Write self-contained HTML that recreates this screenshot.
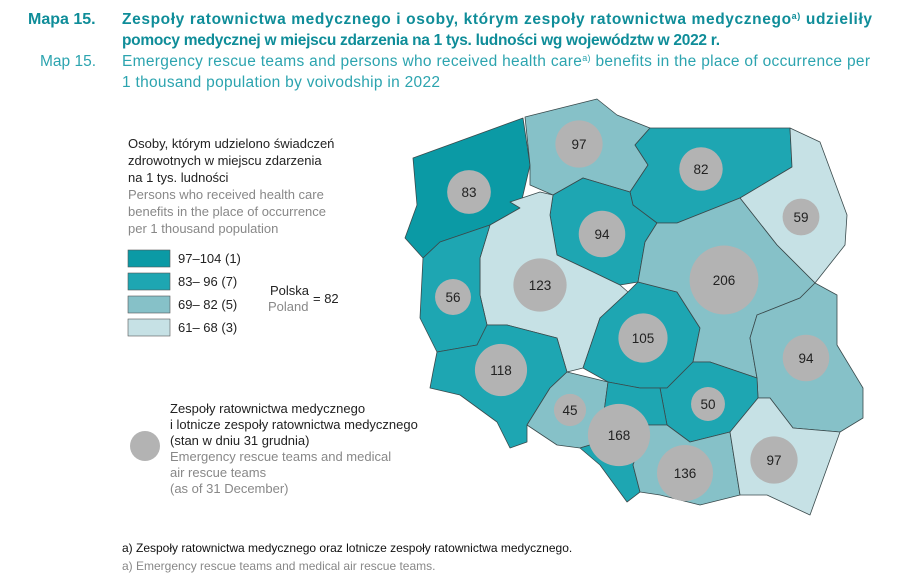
<!DOCTYPE html>
<html><head><meta charset="utf-8"><style>
body{margin:0;background:#fff;width:900px;height:582px;overflow:hidden;font-family:"Liberation Sans",sans-serif}
svg{position:absolute;left:0;top:0}
</style></head><body>
<svg id="c" width="900" height="582" font-family="Liberation Sans, sans-serif">
<g>
<text x="28" y="24" font-size="16" font-weight="bold" fill="#0f8d99">Mapa 15.</text>
<text x="122" y="24" font-size="15.5" font-weight="bold" fill="#0f8d99" textLength="750">Zespoły ratownictwa medycznego i osoby, którym zespoły ratownictwa medycznego<tspan font-size="9" dy="-5">a)</tspan><tspan dy="5"> udzieliły</tspan></text>
<text x="122" y="45" font-size="15.5" font-weight="bold" fill="#0f8d99" textLength="598">pomocy medycznej w miejscu zdarzenia na 1 tys. ludności wg województw w 2022 r.</text>
<text x="40" y="66" font-size="15.5" fill="#2ca4af">Map 15.</text>
<text x="122" y="66" font-size="15.5" fill="#2ca4af" textLength="748">Emergency rescue teams and persons who received health care<tspan font-size="9" dy="-5">a)</tspan><tspan dy="5"> benefits in the place of occurrence per</tspan></text>
<text x="122" y="87" font-size="15.5" fill="#2ca4af" textLength="318">1 thousand population by voivodship in 2022</text>
</g>
<g font-size="13">
<text x="128" y="148" fill="#222">Osoby, którym udzielono świadczeń</text>
<text x="128" y="165" fill="#222">zdrowotnych w miejscu zdarzenia</text>
<text x="128" y="182" fill="#222">na 1 tys. ludności</text>
<text x="128" y="199" fill="#888">Persons who received health care</text>
<text x="128" y="216" fill="#888">benefits in the place of occurrence</text>
<text x="128" y="233" fill="#888">per 1 thousand population</text>
<g id="legboxes"></g>
<text x="270" y="295" fill="#222">Polska</text>
<text x="268" y="311" fill="#888">Poland</text>
<text x="313" y="303" fill="#222">= 82</text>
</g>
<g font-size="13">
<circle cx="145" cy="446" r="15" fill="#b3b3b3"/>
<text x="170" y="413" fill="#222">Zespoły ratownictwa medycznego</text>
<text x="170" y="429" fill="#222">i lotnicze zespoły ratownictwa medycznego</text>
<text x="170" y="445" fill="#222">(stan w dniu 31 grudnia)</text>
<text x="170" y="461" fill="#888">Emergency rescue teams and medical</text>
<text x="170" y="477" fill="#888">air rescue teams</text>
<text x="170" y="493" fill="#888">(as of 31 December)</text>
</g>
<g id="regions"></g>
<g id="circles"></g>
<g font-size="12">
<text x="122" y="552" fill="#111">a) Zespoły ratownictwa medycznego oraz lotnicze zespoły ratownictwa medycznego.</text>
<text x="122" y="570" fill="#888">a) Emergency rescue teams and medical air rescue teams.</text>
</g>
</svg>
<script>
const regionNames=["zachodniopomorskie","pomorskie","warminsko-mazurskie","podlaskie","kujawsko-pomorskie","wielkopolskie","lubuskie","dolnoslaskie","opolskie","lodzkie","mazowieckie","lubelskie","swietokrzyskie","slaskie","malopolskie","podkarpackie"];
const classIdx=[0,2,1,3,1,3,1,1,2,1,2,2,1,1,2,3];
const teams=[83,97,82,59,94,123,56,118,45,105,206,94,50,168,136,97];
const classLabels=["97–104 (1)","83–  96 (7)","69–  82 (5)","61–  68 (3)"];
const classColors=["#0b9aa5","#1ea6b2","#86c1c8","#c6e1e5"];
// geometry (map outlines and label anchors)
const shapes=[
"413,158 523,118 530,165 520,208 490,225 440,242 423,258 405,238 417,205",
"525,117 597,99 617,115 650,128 635,145 648,165 630,192 583,178 553,195 530,185 530,165",
"650,128 790,128 792,167 740,198 677,223 657,223 633,205 630,192 648,165 635,145",
"790,128 820,142 847,215 845,245 815,283 777,245 740,198 792,167",
"553,195 583,178 630,192 633,205 657,223 645,242 638,282 620,285 593,272 557,255 550,215",
"510,202 540,192 553,195 550,215 557,255 593,272 620,285 628,292 600,318 583,368 567,372 557,338 507,325 487,325 480,295 480,258 490,225 520,208",
"440,242 490,225 480,258 480,295 487,325 477,345 437,352 420,318 423,258",
"437,352 477,345 487,325 507,325 557,338 567,372 550,388 527,425 527,442 510,448 497,422 460,395 430,388 433,372",
"567,372 608,382 600,442 580,448 557,445 527,425 550,388",
"628,292 638,282 677,292 700,328 693,362 667,388 640,388 608,382 583,368 600,318",
"657,223 677,223 740,198 777,245 815,283 800,298 757,315 750,338 757,378 710,362 693,362 700,328 677,292 638,282 645,242",
"815,283 837,295 837,345 863,388 863,418 840,432 793,428 770,398 758,398 757,378 750,338 757,315 800,298",
"693,362 710,362 757,378 758,398 730,432 690,442 667,425 660,388 667,388",
"608,382 640,388 660,388 667,425 647,425 633,465 640,492 627,502 600,465 580,448 600,442",
"667,425 690,442 730,432 740,495 700,505 660,495 640,492 633,465 647,425",
"730,432 758,398 770,398 793,428 840,432 810,515 767,495 740,495"];
const anchors=[[469,192],[579,144],[701,169],[801,217],[602,234],[540,285],[453,297],[501,370],[570,410],[643,338],[724,280],[806,358],[708,404],[619,435],[685,473],[774,460]];
const NS="http://www.w3.org/2000/svg";
const rScale=v=>2.4*Math.sqrt(v);
const lg=document.getElementById('legboxes');
classLabels.forEach((l,i)=>{
 const r=document.createElementNS(NS,'rect');
 r.setAttribute('x',128);r.setAttribute('y',250+i*23);r.setAttribute('width',42);r.setAttribute('height',17);
 r.setAttribute('fill',classColors[i]);r.setAttribute('stroke','#555');r.setAttribute('stroke-width','0.6');
 
 
 lg.appendChild(r);
 const t=document.createElementNS(NS,'text');
 t.setAttribute('x',178);t.setAttribute('y',263+i*23);t.setAttribute('fill','#222');t.textContent=l;
 
 
 lg.appendChild(t);
});
const rg=document.getElementById('regions'),cg=document.getElementById('circles');
regionNames.forEach((n,i)=>{
 const p=document.createElementNS(NS,'polygon');
 p.setAttribute('points',shapes[i]);p.setAttribute('fill',classColors[classIdx[i]]);
 p.setAttribute('stroke','#3a4a4c');p.setAttribute('stroke-width','0.8');p.setAttribute('stroke-linejoin','round');
 
 
 rg.appendChild(p);
});
regionNames.forEach((n,i)=>{
 const c=document.createElementNS(NS,'circle');
 c.setAttribute('cx',anchors[i][0]);c.setAttribute('cy',anchors[i][1]);c.setAttribute('r',rScale(teams[i]));
 c.setAttribute('fill','#b3b3b3');
 
 
 cg.appendChild(c);
 const t=document.createElementNS(NS,'text');
 t.setAttribute('x',anchors[i][0]);t.setAttribute('y',anchors[i][1]+5);t.setAttribute('text-anchor','middle');
 t.setAttribute('font-size','13.5');t.setAttribute('fill','#222');t.textContent=teams[i];
 
 
 cg.appendChild(t);
});
</script>
</body></html>
